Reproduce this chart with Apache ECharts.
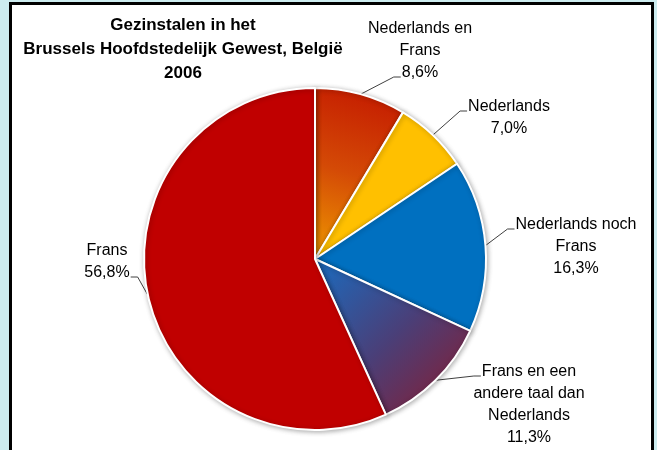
<!DOCTYPE html>
<html>
<head>
<meta charset="utf-8">
<script src="https://cdn.jsdelivr.net/npm/echarts@6/dist/echarts.min.js"></script>
<style>
  html, body { margin: 0; padding: 0; background: #ccecef; }
  #chart { width: 657px; height: 450px; }
</style>
</head>
<body>
<div id="chart"></div>
<script>
// gegevens
const categories = ['Nederlands en Frans', 'Nederlands', 'Nederlands noch Frans',
  'Frans en een andere taal dan Nederlands', 'Frans'];
const values = [8.6, 7.0, 16.3, 11.3, 56.8];
// tekstregels van de labels (zoals in het origineel afgebroken)
const labelText = [['Nederlands en', 'Frans'], ['Nederlands'], ['Nederlands noch', 'Frans'],
  ['Frans en een', 'andere taal dan', 'Nederlands'], ['Frans']];
const titleText = 'Gezinstalen in het\nBrussels Hoofdstedelijk Gewest, België\n2006';

// plaats van de labels (midden van het tekstblok) en de regel waar de lijn aankomt
const labelPos = [[420, 51], [509, 118], [576, 247], [529, 405], [107, 262]];
const leaderRow = [2, 0, 0, 0, 1];

const fontFamily = 'Liberation Sans, Arial, sans-serif';
const labelFont = 16;
const lineH = 22;

function grad(x, y, x2, y2, stops) {
  return new echarts.graphic.LinearGradient(x, y, x2, y2,
    stops.map((c, i) => ({ offset: i / (stops.length - 1), color: c })));
}

const sliceColors = [
  grad(0.7, 0, 0.1, 1, ['#c41a00', '#d44a06', '#ee9800']),
  '#ffc000',
  '#0070c0',
  grad(0, 0, 1, 1, ['#1a6cc0', '#4a3f78', '#8c1a2c']),
  '#c00000'
];

function rowsFor(i) {
  return labelText[i].concat(values[i].toFixed(1).replace('.', ',') + '%');
}

const ctx = document.createElement('canvas').getContext('2d');
ctx.font = labelFont + 'px ' + fontFamily;
const textW = s => ctx.measureText(s).width;

const chart = echarts.init(document.getElementById('chart'));
chart.setOption({
  backgroundColor: '#ccecef',
  animation: false,
  graphic: [{
    type: 'rect',
    z: -1,
    shape: { x: 10.5, y: 3.5, width: 642, height: 470 },
    style: { fill: '#fff', stroke: '#000', lineWidth: 3 }
  }],
  title: {
    text: titleText,
    left: 183,
    top: 13,
    textAlign: 'center',
    padding: 0,
    textStyle: { fontFamily, fontSize: 17, fontWeight: 'bold', lineHeight: 24, color: '#000' }
  },
  series: [{
    type: 'pie',
    center: [315, 259],
    radius: 171,
    startAngle: 90,
    clockwise: true,
    data: categories.map((name, i) => ({
      name,
      value: values[i],
      itemStyle: { color: sliceColors[i] }
    })),
    itemStyle: {
      borderColor: '#fff',
      borderWidth: 2,
      shadowBlur: 5,
      shadowOffsetX: 1,
      shadowOffsetY: 1,
      shadowColor: 'rgba(0,0,0,0.3)'
    },
    label: {
      show: true,
      position: 'outside',
      formatter: p => rowsFor(p.dataIndex).map(l => '{c|' + l + '}').join('\n'),
      rich: {
        c: { align: 'center', fontFamily, fontSize: labelFont, lineHeight: lineH, color: '#000' }
      }
    },
    labelLine: {
      show: true,
      length: 12,
      length2: 6,
      lineStyle: { color: '#404040', width: 1 }
    },
    labelLayout: p => {
      const i = p.dataIndex;
      const [cx, cy] = labelPos[i];
      const rows = rowsFor(i);
      const k = leaderRow[i];
      const anchor = p.labelLinePoints[0];
      const side = cx > anchor[0] ? 1 : -1;
      const y = cy + (k - (rows.length - 1) / 2) * lineH + 4;
      const endX = cx - side * (textW(rows[k]) / 2 + 1);
      return {
        x: cx,
        y: cy,
        align: 'center',
        verticalAlign: 'middle',
        labelLinePoints: [anchor, [endX - side * 7, y], [endX, y]]
      };
    },
    emphasis: { disabled: true }
  }]
});
</script>
</body>
</html>
